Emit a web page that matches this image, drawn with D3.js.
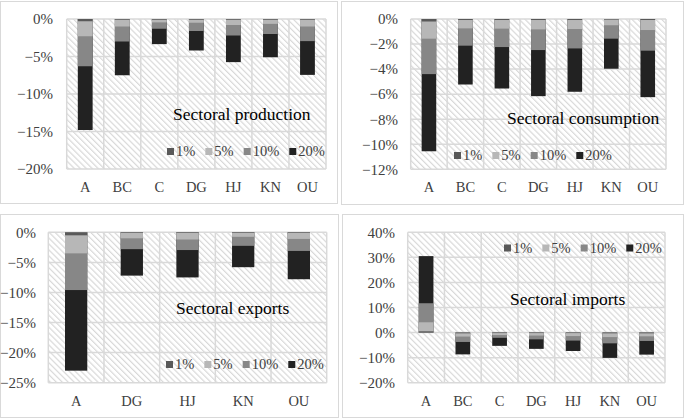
<!DOCTYPE html>
<html><head><meta charset="utf-8">
<script src="https://cdn.jsdelivr.net/npm/d3@7"></script>
<style>
html,body{margin:0;padding:0;background:#fff;}
svg{display:block;}
svg text{font-family:'Liberation Serif','Times New Roman',serif;}
</style></head>
<body><svg id="c" width="685" height="419"></svg>
<script>
// ---- data ----
const categories = ["A","BC","C","DG","HJ","KN","OU"];
const exportCategories = ["A","DG","HJ","KN","OU"];
const seriesNames = ["1%","5%","10%","20%"];

const prod1  = [-0.3, -0.1, -0.1, -0.1, -0.1, -0.1, -0.1];
const prod5  = [-2.3, -1.0, -0.45, -0.5, -0.8, -0.65, -1.0];
const prod10 = [-6.3, -3.0, -1.3, -1.6, -2.2, -2.0, -2.95];
const prod20 = [-14.8, -7.5, -3.35, -4.2, -5.75, -5.1, -7.45];

const cons1  = [-0.2, -0.08, -0.08, -0.08, -0.08, -0.05, -0.08];
const cons5  = [-1.57, -0.75, -0.77, -0.83, -0.8, -0.5, -0.88];
const cons10 = [-4.4, -2.13, -2.24, -2.48, -2.35, -1.57, -2.53];
const cons20 = [-10.56, -5.23, -5.55, -6.16, -5.81, -3.97, -6.24];

const exp1  = [-0.5, -0.1, -0.1, -0.1, -0.1];
const exp5  = [-3.5, -1.0, -1.2, -0.75, -1.1];
const exp10 = [-9.6, -2.8, -2.95, -2.25, -3.1];
const exp20 = [-23.0, -7.2, -7.5, -5.8, -7.8];

const imp1  = [0.5, -0.3, -0.2, -0.2, -0.2, -0.3, -0.3];
const imp5  = [4.1, -1.6, -1.0, -1.2, -1.4, -1.8, -1.5];
const imp10 = [11.7, -3.75, -2.1, -2.7, -3.2, -4.3, -3.35];
const imp20 = [30.5, -8.7, -5.3, -6.5, -7.35, -10.1, -8.8];

const prodTicks = [0,-5,-10,-15,-20];
const consTicks = [0,-2,-4,-6,-8,-10,-12];
const expTicks  = [0,-5,-10,-15,-20,-25];
const impTicks  = [40,30,20,10,0,-10,-20];

const seriesColors = ["#595959","#b7b7b7","#878787","#222222"];
const FONT = "'Liberation Serif','Times New Roman',serif";

// ---- drawing ----
const svg = d3.select("#c");
const defs = svg.append("defs");
const pat = defs.append("pattern").attr("id","hatch").attr("patternUnits","userSpaceOnUse")
  .attr("width",4.2).attr("height",4.2).attr("patternTransform","rotate(-45)");
pat.append("rect").attr("width",4.2).attr("height",4.2).attr("fill","#ffffff");
pat.append("line").attr("x1",0.6).attr("y1",0).attr("x2",0.6).attr("y2",4.2)
  .attr("stroke","#d6d6d6").attr("stroke-width",1.1);

const pct = d => (d < 0 ? "\u2212" + Math.abs(d) : String(d)) + "%";

function panel(cfg){
  const g = svg.append("g");
  g.append("rect").attr("x",cfg.box[0]).attr("y",cfg.box[1]).attr("width",cfg.box[2]).attr("height",cfg.box[3])
    .attr("fill","#fff").attr("stroke","#d9d9d9").attr("stroke-width",1);
  const [x0,x1,y0,y1] = cfg.plot;
  const x = d3.scaleBand().domain(cfg.cats).range([x0,x1]).paddingInner(0.6).paddingOuter(0.3);
  const y = d3.scaleLinear().domain(cfg.domain).range([y1,y0]);
  g.append("rect").attr("x",x0).attr("y",y0).attr("width",x1-x0).attr("height",y1-y0).attr("fill","url(#hatch)");
  g.selectAll(".hg").data(cfg.ticks).join("line")
    .attr("x1",x0).attr("x2",x1).attr("y1",d=>y(d)).attr("y2",d=>y(d))
    .attr("stroke","#d9d9d9").attr("stroke-width",1.5);
  const bounds = d3.range(cfg.cats.length+1).map(i=>x0 + i*(x1-x0)/cfg.cats.length);
  g.selectAll(".vg").data(bounds).join("line")
    .attr("x1",d=>d).attr("x2",d=>d).attr("y1",y0).attr("y2",y1)
    .attr("stroke","#d9d9d9").attr("stroke-width",1.5);
  for (let s = cfg.series.length-1; s>=0; s--){
    g.selectAll(".b"+s).data(cfg.series[s]).join("rect")
      .attr("x",(d,i)=>x(cfg.cats[i]))
      .attr("width",x.bandwidth())
      .attr("y",d=>Math.min(y(d),y(0)))
      .attr("height",d=>Math.abs(y(d)-y(0)))
      .attr("fill",seriesColors[s]);
  }
  const ya = g.append("g").attr("transform",`translate(${cfg.ylabX},0)`)
    .call(d3.axisLeft(y).tickValues(cfg.ticks).tickSize(0).tickPadding(0).tickFormat(pct));
  ya.attr("font-family",FONT);
  ya.select(".domain").remove();
  ya.selectAll("text").style("font-family",FONT).attr("font-size",15).attr("fill","#404040");
  const xa = g.append("g").attr("transform",`translate(0,${cfg.xlabY})`)
    .call(d3.axisBottom(x).tickSize(0).tickPadding(0));
  xa.attr("font-family",FONT);
  xa.select(".domain").remove();
  xa.selectAll("text").style("font-family",FONT)
    .attr("font-size",14.5).attr("fill","#404040").attr("dy",0);
  g.append("text").attr("x",cfg.title[1]).attr("y",cfg.title[2]).text(cfg.title[0])
    .style("font-family",FONT).attr("font-size",17.5).attr("fill","#000");
  let lx = cfg.legend[0];
  const ly = cfg.legend[1];
  seriesNames.forEach((n,i)=>{
    g.append("rect").attr("x",lx).attr("y",ly-8).attr("width",7).attr("height",7).attr("fill",seriesColors[i]);
    const t = g.append("text").attr("x",lx+9).attr("y",ly).text(n).style("font-family",FONT)
      .attr("font-size",14.5).attr("fill","#404040");
    lx += 9 + t.node().getComputedTextLength() + 10;
  });
}

panel({box:[0.5,1.5,337,202], plot:[66.7,326,19,169], cats:categories, domain:[-20,0], ticks:prodTicks,
  series:[prod1,prod5,prod10,prod20], ylabX:53, xlabY:192,
  title:["Sectoral production",173,120], legend:[167,156]});
panel({box:[341.5,1.5,342,203], plot:[410.7,666,19,169.3], cats:categories, domain:[-12,0], ticks:consTicks,
  series:[cons1,cons5,cons10,cons20], ylabX:398, xlabY:192,
  title:["Sectoral consumption",507,124], legend:[454,160]});
panel({box:[0.5,214.5,338,203], plot:[48.3,326.7,232.3,382.7], cats:exportCategories, domain:[-25,0], ticks:expTicks,
  series:[exp1,exp5,exp10,exp20], ylabX:36, xlabY:406,
  title:["Sectoral exports",176,314], legend:[166,369]});
panel({box:[342.5,214.5,341,203], plot:[407.7,665,232.3,382.7], cats:categories, domain:[-20,40], ticks:impTicks,
  series:[imp1,imp5,imp10,imp20], ylabX:395, xlabY:406,
  title:["Sectoral imports",510,305], legend:[504,252.5]});
</script></body></html>
